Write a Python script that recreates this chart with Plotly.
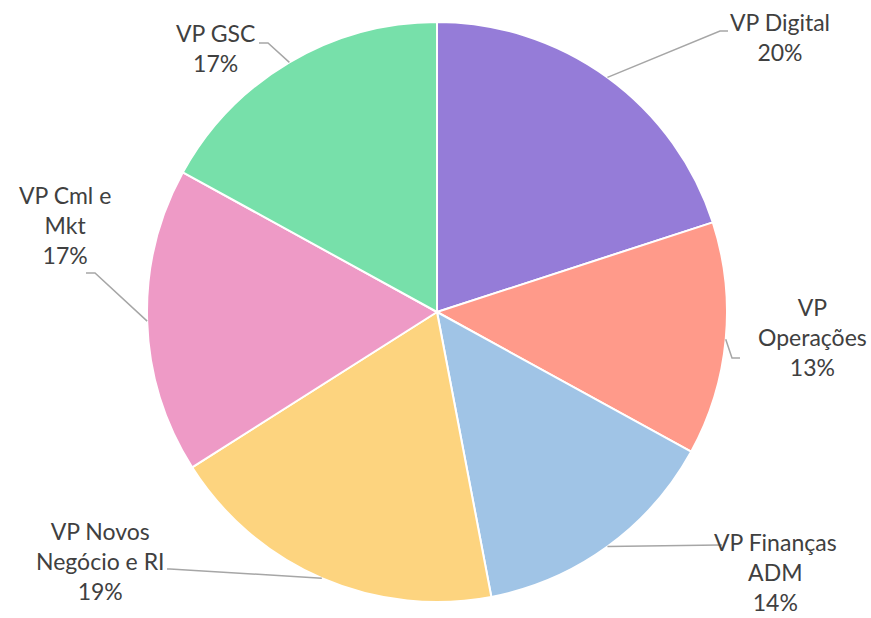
import math
import plotly.graph_objects as go

# ---- data ----
labels = ["VP Digital", "VP Operações", "VP Finanças ADM",
          "VP Novos Negócio e RI", "VP Cml e Mkt", "VP GSC"]
label_text = ["VP Digital", "VP<br>Operações", "VP Finanças<br>ADM",
              "VP Novos<br>Negócio e RI", "VP Cml e<br>Mkt", "VP GSC"]
values = [20, 13, 14, 19, 17, 17]
colors = ["#957CD8", "#FF9A8A", "#A0C4E6", "#FDD47F", "#EE9AC6", "#77E0AA"]

# ---- layout geometry (pixels) ----
W, H = 871, 618
ML, MR, MT, MB = 147, 144, 22, 16
PW, PH = W - ML - MR, H - MT - MB
CX, CY = ML + PW / 2, MT + PH / 2
R = min(PW, PH) / 2

# label placement (text centre, elbow point, end point) in pixels
label_pos = [(780, 37), (812, 337), (776, 572), (100, 561), (65, 225), (215, 48)]
elbows = [(720, 31), (732, 358), (720, 545), (170, 569), (95, 273), (268, 43)]
ends = [(728, 31), (740, 358), (722, 545), (167, 569), (86, 273), (259, 43)]


def to_paper(px, py):
    return (px - ML) / PW, (H - MB - py) / PH


fig = go.Figure(go.Pie(
    labels=labels, values=values, sort=False, direction="clockwise",
    rotation=0, textinfo="none", hoverinfo="label+percent",
    marker=dict(colors=colors, line=dict(color="white", width=2)),
    showlegend=False,
))

total = sum(values)
cum = 0
shapes, annotations = [], []
for i, v in enumerate(values):
    pct = round(100 * v / total)
    mid = 2 * math.pi * (cum + v / 2) / total
    cum += v
    ex, ey = CX + R * math.sin(mid), CY - R * math.cos(mid)
    pts = [to_paper(ex, ey), to_paper(*elbows[i]), to_paper(*ends[i])]
    path = "M {} {} L {} {} L {} {}".format(*[c for p in pts for c in p])
    shapes.append(dict(type="path", path=path, xref="paper", yref="paper",
                       line=dict(color="#A6A6A6", width=1.5)))
    tx, ty = to_paper(*label_pos[i])
    annotations.append(dict(x=tx, y=ty, xref="paper", yref="paper",
                            text=f"{label_text[i]}<br>{pct}%", showarrow=False,
                            xanchor="center", yanchor="middle", align="center",
                            font=dict(family="Lato, Open Sans, sans-serif",
                                      size=23, color="#404040")))

fig.update_layout(width=W, height=H,
                  margin=dict(l=ML, r=MR, t=MT, b=MB),
                  paper_bgcolor="white", plot_bgcolor="white",
                  shapes=shapes, annotations=annotations)
fig.write_html("out.html", config={"displayModeBar": False},
               post_script="document.body.style.margin='0';document.body.style.overflow='hidden';")
